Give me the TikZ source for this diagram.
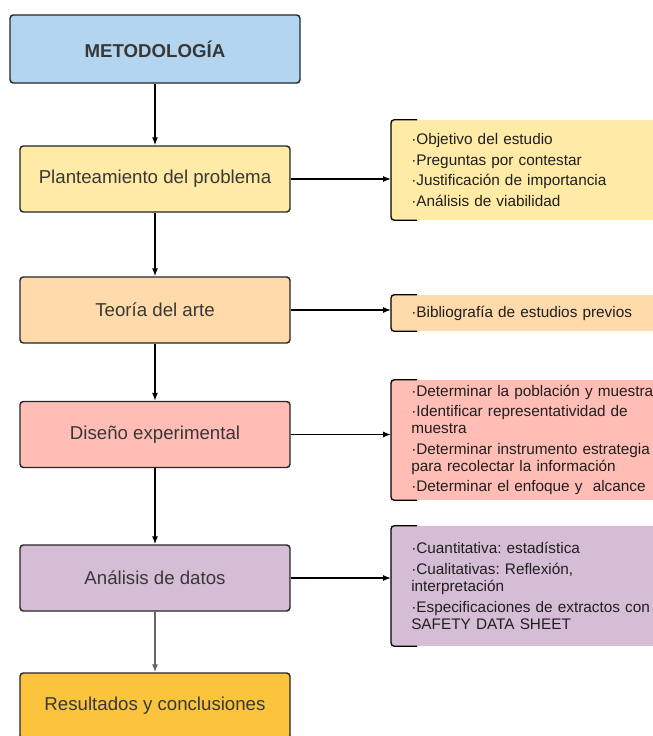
\documentclass[tikz,border=0pt]{standalone}
\usepackage{fontspec}
\setmainfont{Liberation Sans}
\frenchspacing
\usetikzlibrary{arrows.meta}
\definecolor{metoblue}{HTML}{B3D5F0}
\definecolor{planyellow}{HTML}{FFEBA5}
\definecolor{teopeach}{HTML}{FFDAAA}
\definecolor{disepink}{HTML}{FFBDB6}
\definecolor{analilac}{HTML}{D6BDD6}
\definecolor{resamber}{HTML}{FBC43C}
\begin{document}
\begin{tikzpicture}[x=0.75pt,y=-0.75pt,
  caja/.style={draw=black!85,line width=1.1pt,rounded corners=2.5pt,
    minimum width=202.5pt,minimum height=49.5pt,text=black!78,
    font=\fontsize{14}{16}\selectfont},
  lista/.style={anchor=west,inner xsep=15pt,inner ysep=0pt,text width=200pt,
    align=left,text=black!88,font=\fontsize{11.5}{12.8}\selectfont},
  flecha/.style={-{Latex[length=6pt,width=4.5pt]},line width=0.9pt}]
%picture
\useasboundingbox (0,0) rectangle (653,736);
\node[caja,fill=metoblue,minimum width=217.5pt,minimum height=51pt,
  font=\bfseries\fontsize{14}{16}\selectfont] (meto) at (155,49) {METODOLOGÍA};
\node[caja,fill=planyellow] (plan) at (155,179) {Planteamiento del problema};
\node[caja,fill=teopeach] (teo) at (155,310) {Teoría del arte};
\node[caja,fill=disepink] (dise) at (155,434.5) {Diseño experimental};
\node[caja,fill=analilac] (anal) at (155,578) {Análisis de datos};
\node[caja,fill=resamber] (res) at (155,706) {Resultados y conclusiones};
%listas
\node[lista,fill=planyellow,minimum height=75pt] (b1) at (391,170)
  {·Objetivo del estudio\\[2.8pt]
   ·Preguntas por contestar\\[2.8pt]
   ·Justificación de importancia\\[2.8pt]
   ·Análisis de viabilidad};
\node[lista,fill=teopeach,minimum height=27pt] (b2) at (391,313)
  {·Bibliografía de estudios previos};
\node[lista,fill=disepink,minimum height=90pt] (b3) at (391,440)
  {·Determinar la población y muestra\\[2.6pt]
   ·Identificar representatividad de\\ muestra\\[2.6pt]
   ·Determinar instrumento estrategia\\ para recolectar la información\\[2.6pt]
   ·Determinar el enfoque y \ alcance};
\node[lista,fill=analilac,minimum height=90pt] (b4) at (391,586)
  {·Cuantitativa: estadística\\[2.6pt]
   ·Cualitativas: Reflexión,\\ interpretación\\[2.6pt]
   ·Especificaciones de extractos con\\ SAFETY DATA SHEET};
\foreach \b in {b1,b2,b3,b4}
  \draw[line width=1pt,rounded corners=2.5pt] ([xshift=19.5pt]\b.north west)
    -- (\b.north west) -- (\b.south west) -- ([xshift=19.5pt]\b.south west);
%flechas
\draw[flecha] (meto) -- (plan);
\draw[flecha] (plan) -- (teo);
\draw[flecha] (teo) -- (dise);
\draw[flecha] (dise) -- (anal);
\draw[flecha,draw=black!60,fill=black!60] (anal) -- (res);
\draw[flecha] (plan.east) -- (plan.east -| b1.west);
\draw[flecha] (teo.east) -- (teo.east -| b2.west);
\draw[flecha] (dise.east) -- (dise.east -| b3.west);
\draw[flecha] (anal.east) -- (anal.east -| b4.west);
\end{tikzpicture}
\end{document}
